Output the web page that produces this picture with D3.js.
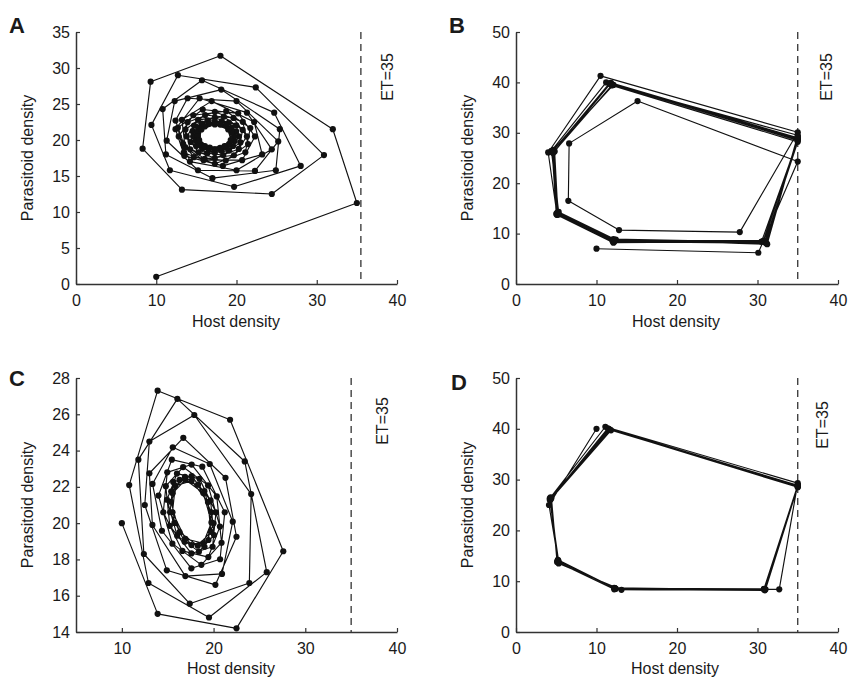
<!DOCTYPE html>
<html>
<head>
<meta charset="utf-8">
<script src="https://cdn.jsdelivr.net/npm/d3@7"></script>
<style>
  html, body { margin: 0; padding: 0; background: #fff; }
  svg { display: block; }
  text { font-family: "Liberation Sans", Arial, Helvetica, sans-serif; fill: #1a1a1a; }
</style>
</head>
<body>
<svg id="chart" width="849" height="686"></svg>
<script>
// ---------- DATA (host density, parasitoid density) ----------
const seriesA = [
  [10,1],[35,11.25],[32,21.5],[18,31.7],[9.3,28.1],[8.3,18.8],[13.2,13.1],[24.4,12.5],
  [30.9,17.9],[22.4,27.3],[12.7,29.0],[9.4,22.1],[11.7,15.8],[19.7,13.5],[28.0,16.4],
  [24.7,23.8],[15.7,28.3],[10.8,24.3],[11.2,18.0],[17.0,14.7],[24.9,15.8],
  [25.4,21.5],[18.1,27.0],[12.3,25.4],[11.3,19.9],[15.2,15.8],[22.3,15.7],
  [25.2,19.8],[20.0,25.4],[13.9,25.8],[12.4,22.7],[14.2,17.0],[20.0,15.8],
  [24.4,18.7],[21.3,23.8],[15.4,25.8],[12.4,21.5],[13.5,17.8],[18.3,16.4],
  [23.2,18.0],[22.2,22.5],[16.9,25.4],[13.2,22.8],[13.6,19.0],[15.9,17.2],[20.7,17.2],
  [22.30,20.50],[20.21,23.70],[15.79,24.23],[12.69,21.70],[13.42,18.24],[17.30,16.70],[21.10,18.29],
  [21.72,21.65],[18.72,24.00],[14.62,23.44],[12.80,20.50],[14.68,17.62],[18.66,17.15],[21.44,19.43],
  [20.78,22.52],[17.30,23.90],[13.90,22.47],[13.35,19.47],[16.03,17.38],[19.68,17.88],
  [21.30,20.50],[19.62,23.06],[16.09,23.47],[13.64,21.45],[14.23,18.71],[17.30,17.50],[20.29,18.76],
  [20.77,21.40],[18.41,23.24],[15.21,22.80],[13.80,20.50],[15.27,18.27],[18.35,17.91],[20.49,19.67],
  [19.97,22.05],[17.30,23.10],[14.71,22.00],[14.30,19.72],[16.34,18.14],[19.09,18.53],
  [20.30,20.50],[19.05,22.42],[16.39,22.74],[14.53,21.22],[14.97,19.15],[17.30,18.22],[19.58,19.17],
  [19.95,21.19],[18.15,22.60],[15.69,22.27],[14.60,20.50],[15.73,18.77],[18.12,18.49],[19.78,19.86],
  [19.39,21.71],[17.30,22.54],[15.26,21.68],[14.93,19.88],[16.54,18.63],[18.73,18.93],
  [19.70,20.50],[18.69,22.03],[16.58,22.28],[15.10,21.07],[15.46,19.43],[17.30,18.70],[19.10,19.46],
  [19.38,21.04],[17.97,22.14],[16.05,21.88],[15.19,20.50],[16.07,19.14],[17.95,18.91],[19.28,19.99],
  [18.97,21.47],[17.30,22.15],[15.63,21.47],[15.35,19.99],[16.67,18.94],[18.51,19.17]
];
const seriesB = [
  [10,7],[30.1,6.2],[35,24.3],[15.1,36.3],[6.6,27.9],[6.5,16.5],[12.8,10.7],[27.8,10.3],
  [35,30.1],[10.5,41.3],[4.0,26.1],[5.1,13.7],[12.1,8.2],[30.5,8.4],
  [35,28.5],[11.2,40.0],[4.4,26.4],[5.3,14.3],[12.4,8.8],[31.2,7.9],
  [35,29.5],[12.1,39.5],[4.7,26.6],[5.2,14.0],[12.2,8.6],[30.8,8.6],
  [35,28.9],[11.6,39.8],[4.5,26.2],[5.0,13.9],[12.0,8.5],[31.0,8.2],
  [35,29.0],[11.8,39.9],[4.6,26.5],[5.1,14.1],[12.3,8.7],[30.7,8.5],
  [35,28.7],[11.7,39.7],[4.8,26.3],[5.2,14.2],[12.1,8.9],[30.9,8.3],
  [35,28.2],[11.9,39.4],[4.6,26.0],[5.3,13.8],[12.2,8.4],[31.1,8.1],[35,29.2]
];
const seriesC = [
  [10.0,20.0],[13.9,15.0],[22.5,14.2],[27.6,18.45],[21.8,25.7],[13.9,27.3],[10.8,22.1],
  [12.9,16.7],[19.5,14.8],[25.8,17.3],[23.4,23.4],[16.05,26.85],[11.8,23.5],[12.4,18.3],
  [17.4,15.56],[23.9,16.7],[24.1,21.6],[17.9,25.96],[13.0,24.5],[12.5,21.0],[14.9,17.4],
  [20.2,16.6],[22.5,19.25],[21.3,22.5],[16.7,24.7],[13.0,22.75],
  [13.33,19.90],[16.92,17.08],[20.92,17.20],[22.09,20.08],[19.58,23.26],[15.55,24.18],[13.34,22.16],
  [14.37,19.58],[17.58,17.51],[20.71,18.01],[21.22,20.60],[18.77,23.11],[15.45,23.50],[13.99,21.52],
  [15.51,18.87],[18.67,17.70],[20.87,18.92],[20.35,21.47],[17.61,23.23],[14.95,22.80],[14.52,20.60],
  [16.60,18.47],[19.43,18.13],[20.69,19.81],[19.40,22.08],[16.68,23.09],[14.79,22.04],
  [15.23,19.85],[17.58,18.33],[19.89,18.70],[20.26,20.60],[18.46,22.44],[16.01,22.73],[14.92,21.29],
  [16.03,19.31],[18.40,18.43],[20.05,19.34],[19.67,21.25],[17.61,22.59],[15.60,22.27],[15.26,20.60],
  [16.84,18.97],[19.01,18.70],[20.00,19.99],[19.00,21.76],[16.88,22.55],[15.38,21.74],
  [15.73,20.01],[17.59,18.79],[19.44,19.07],[19.77,20.60],[18.31,22.12],[16.29,22.38],[15.35,21.18],
  [16.28,19.51],[18.28,18.76],[19.71,19.52],[19.39,21.16],[17.61,22.33],[15.83,22.07],[15.52,20.60],
  [16.92,19.14],[18.87,18.89],[19.77,20.04],[18.88,21.66],[16.94,22.39],[15.54,21.65]
];
const seriesD = [
  [10,40],[4.1,25.0],[5.3,13.5],[13.1,8.3],[32.7,8.4],[35,29.3],
  [11.1,40.4],[4.2,26.3],[5.2,14.2],[12.3,8.6],[30.8,8.4],[35,28.5],
  [11.7,39.8],[4.3,26.5],[5.2,14.0],[12.2,8.7],[30.9,8.3],[35,28.8],
  [11.5,40.0],[4.2,26.0],[5.3,13.9],[12.4,8.5],[31.0,8.4],[35,28.6],
  [11.6,39.9],[4.3,26.2],[5.2,14.1],[12.3,8.6],[30.8,8.5],[35,28.9],
  [11.4,40.1],[4.4,26.4],[5.1,13.8],[12.2,8.4],[30.9,8.2],[35,28.7],
  [11.8,39.7],[4.3,26.1],[5.2,14.0],[12.3,8.6],[30.8,8.4],[35,28.8]
];
const ticksX_A = [0,10,20,30,40];
const ticksY_A = [0,5,10,15,20,25,30,35];
const ticksX_B = [0,10,20,30,40];
const ticksY_B = [0,10,20,30,40,50];
const ticksX_C = [10,20,30,40];
const ticksY_C = [14,16,18,20,22,24,26,28];
const ticksX_D = [0,10,20,30,40];
const ticksY_D = [0,10,20,30,40,50];
const etValues = [35.5, 35, 35, 35];
const etLabel = "ET=35";
const panelLetters = ["A","B","C","D"];
const xLabel = "Host density";
const yLabel = "Parasitoid density";

// ---------- LAYOUT ----------
const layout = [
  {data: seriesA, xd:[0,40], yd:[0,35], xt:ticksX_A, yt:ticksY_A, l:76, r:397, t:32, b:284,
   letter:[9,33], ylab:[27,158], xlab:[236,327], etlab:[393,77]},
  {data: seriesB, xd:[0,40], yd:[0,50], xt:ticksX_B, yt:ticksY_B, l:516, r:838, t:32, b:284,
   letter:[449,33], ylab:[467,158], xlab:[676,327], etlab:[832,77]},
  {data: seriesC, xd:[5,40], yd:[14,28], xt:ticksX_C, yt:ticksY_C, l:76, r:397, t:378, b:632,
   letter:[9,386], ylab:[27,505], xlab:[231,674], etlab:[388,421]},
  {data: seriesD, xd:[0,40], yd:[0,50], xt:ticksX_D, yt:ticksY_D, l:516, r:838, t:378, b:632,
   letter:[451,390], ylab:[467,505], xlab:[675,674], etlab:[828,425]}
];

const svg = d3.select("#chart");
const axisColor = "#333";

layout.forEach((p, i) => {
  const x = d3.scaleLinear().domain(p.xd).range([p.l, p.r]);
  const y = d3.scaleLinear().domain(p.yd).range([p.b, p.t]);
  const g = svg.append("g");

  // dashed ET line
  g.append("line")
    .attr("x1", x(etValues[i])).attr("x2", x(etValues[i]))
    .attr("y1", y(p.yd[1])).attr("y2", y(p.yd[0]))
    .attr("stroke", "#222").attr("stroke-width", 1.2)
    .attr("stroke-dasharray", "7,5");

  // trajectory
  const line = d3.line().x(d => x(d[0])).y(d => y(d[1]));
  g.append("path").datum(p.data)
    .attr("d", line).attr("fill", "none")
    .attr("stroke", "#111").attr("stroke-width", 1.15)
    .attr("stroke-linejoin", "round");
  g.selectAll("circle.pt").data(p.data).enter().append("circle")
    .attr("class", "pt")
    .attr("cx", d => x(d[0])).attr("cy", d => y(d[1]))
    .attr("r", 3.1).attr("fill", "#111");

  // axes
  const ax = g.append("g").attr("transform", `translate(0,${p.b})`)
    .call(d3.axisBottom(x).tickValues(p.xt).tickSizeInner(-4).tickSizeOuter(0).tickPadding(11));
  const ay = g.append("g").attr("transform", `translate(${p.l},0)`)
    .call(d3.axisLeft(y).tickValues(p.yt).tickSizeInner(-4).tickSizeOuter(0).tickPadding(6));
  [ax, ay].forEach(a => {
    a.select(".domain").attr("stroke", axisColor).attr("stroke-width", 1.5);
    a.selectAll(".tick line").attr("stroke", axisColor).attr("stroke-width", 1.2);
    a.selectAll(".tick text").attr("font-size", 16).attr("fill", "#1a1a1a")
      .attr("font-family", '"Liberation Sans", Arial, sans-serif');
  });

  // labels
  g.append("text").attr("x", p.letter[0]).attr("y", p.letter[1])
    .attr("font-size", 22).attr("font-weight", "bold").text(panelLetters[i]);
  g.append("text").attr("x", p.xlab[0]).attr("y", p.xlab[1])
    .attr("text-anchor", "middle").attr("font-size", 16).text(xLabel);
  g.append("text")
    .attr("transform", `translate(${p.ylab[0]},${p.ylab[1]}) rotate(-90)`)
    .attr("text-anchor", "middle").attr("dy", "0.35em").attr("font-size", 16).text(yLabel);
  g.append("text")
    .attr("transform", `translate(${p.etlab[0]},${p.etlab[1]}) rotate(-90)`)
    .attr("text-anchor", "middle").attr("font-size", 16).text(etLabel);
});
</script>
</body>
</html>
